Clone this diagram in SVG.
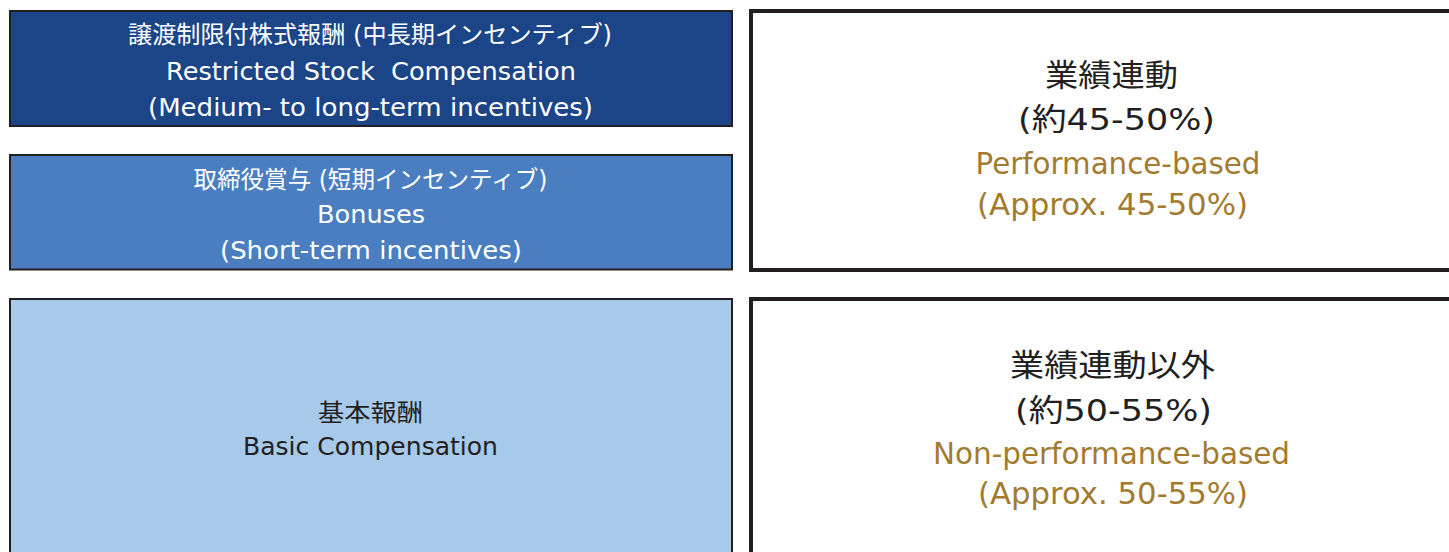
<svg xmlns="http://www.w3.org/2000/svg" width="1449" height="552" viewBox="0 0 1449 552">
<style>
.lb{stroke:#231f20;stroke-width:2}
.rb{fill:#ffffff;stroke:#231f20;stroke-width:4}
text{font-family:"DejaVu Sans","Noto Sans CJK JP",sans-serif;text-anchor:middle;white-space:pre}
.w{fill:#ffffff;font-size:24px}
.d{fill:#231f20;font-size:24px}
.rd{fill:#231f20;font-size:31px}
.g{fill:#a27b30;font-size:30px}
</style>
<rect width="1449" height="552" fill="#ffffff"/>
<g id="restricted-stock">
<rect class="lb" x="10" y="11" width="722" height="115" fill="#1c4587"/>
<text class="w" x="370" y="43" textLength="484" lengthAdjust="spacingAndGlyphs">譲渡制限付株式報酬 (中長期インセンティブ)</text>
<text class="w" x="371" y="80" textLength="410" lengthAdjust="spacingAndGlyphs" xml:space="preserve">Restricted Stock  Compensation</text>
<text class="w" x="370.5" y="116" textLength="445" lengthAdjust="spacingAndGlyphs">(Medium- to long-term incentives)</text>
</g>
<g id="bonuses">
<rect class="lb" x="10" y="155" width="722" height="114.5" fill="#4a7ec0"/>
<text class="w" x="370.5" y="188" textLength="354" lengthAdjust="spacingAndGlyphs">取締役賞与 (短期インセンティブ)</text>
<text class="w" x="371" y="223" textLength="108" lengthAdjust="spacingAndGlyphs">Bonuses</text>
<text class="w" x="371" y="259" textLength="302" lengthAdjust="spacingAndGlyphs">(Short-term incentives)</text>
</g>
<g id="basic">
<rect class="lb" x="10" y="299" width="722" height="270" fill="#a7c9ea"/>
<text class="d" x="370.5" y="421" textLength="105" lengthAdjust="spacingAndGlyphs">基本報酬</text>
<text class="d" x="370.5" y="455" textLength="255" lengthAdjust="spacingAndGlyphs">Basic Compensation</text>
</g>
<g id="performance">
<rect class="rb" x="751" y="11" width="740" height="259"/>
<text class="rd" x="1111.5" y="86" textLength="133" lengthAdjust="spacingAndGlyphs">業績連動</text>
<text class="rd" x="1116.5" y="130" textLength="197" lengthAdjust="spacingAndGlyphs">(約45-50%)</text>
<text class="g" x="1118" y="174" textLength="285" lengthAdjust="spacingAndGlyphs">Performance-based</text>
<text class="g" x="1112.5" y="215" textLength="271" lengthAdjust="spacingAndGlyphs">(Approx. 45-50%)</text>
</g>
<g id="non-performance">
<rect class="rb" x="751" y="299" width="740" height="280"/>
<text class="rd" x="1112.5" y="376" textLength="205" lengthAdjust="spacingAndGlyphs">業績連動以外</text>
<text class="rd" x="1113.5" y="421" textLength="197" lengthAdjust="spacingAndGlyphs">(約50-55%)</text>
<text class="g" x="1111.5" y="464" textLength="357" lengthAdjust="spacingAndGlyphs">Non-performance-based</text>
<text class="g" x="1113" y="504" textLength="270" lengthAdjust="spacingAndGlyphs">(Approx. 50-55%)</text>
</g>
<g id="connectors"></g>
</svg>
